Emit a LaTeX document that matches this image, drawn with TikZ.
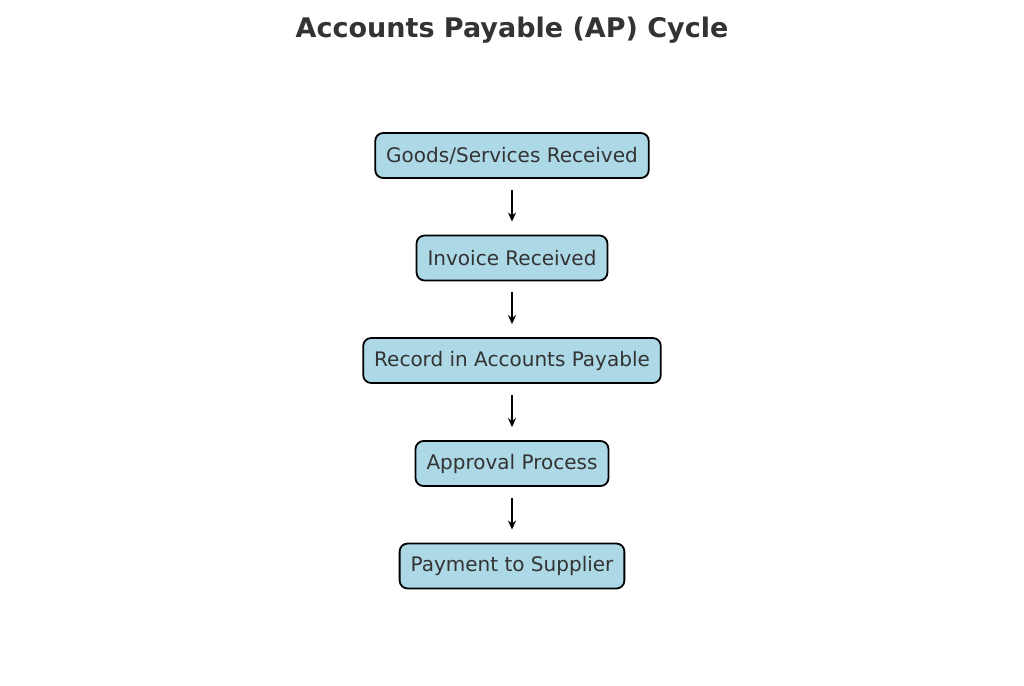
\documentclass[tikz,border=0pt]{standalone}
\usepackage{fontspec}
\setmainfont{DejaVu Sans}
\usetikzlibrary{arrows.meta}
\definecolor{boxfill}{HTML}{ADD8E6}
\definecolor{txt}{HTML}{333333}
\begin{document}
\begin{tikzpicture}[x=1pt,y=-1pt,
  stepbox/.style={draw=black,line width=1.8pt,fill=boxfill,rounded corners=8pt,
    minimum height=45pt,inner xsep=11pt,text=txt,font=\fontsize{20}{24}\selectfont},
  conn/.style={-{Stealth[length=9pt,width=8pt]},line width=2.2pt,shorten <=11pt,shorten >=13pt}]
\useasboundingbox (0,0) rectangle (1024,685);
\node[text=txt,font=\bfseries\fontsize{27}{32}\selectfont] (title) at (512,30) {Accounts Payable (AP) Cycle};
\node[stepbox] (a) at (512,155.5) {Goods/Services Received};
\node[stepbox] (b) at (512,258) {Invoice Received};
\node[stepbox] (c) at (512,360.5) {Record in Accounts Payable};
\node[stepbox] (d) at (512,463.5) {Approval Process};
\node[stepbox] (e) at (512,566) {Payment to Supplier};
\draw[conn] (a) -- (b);
\draw[conn] (b) -- (c);
\draw[conn] (c) -- (d);
\draw[conn] (d) -- (e);
\end{tikzpicture}
\end{document}
